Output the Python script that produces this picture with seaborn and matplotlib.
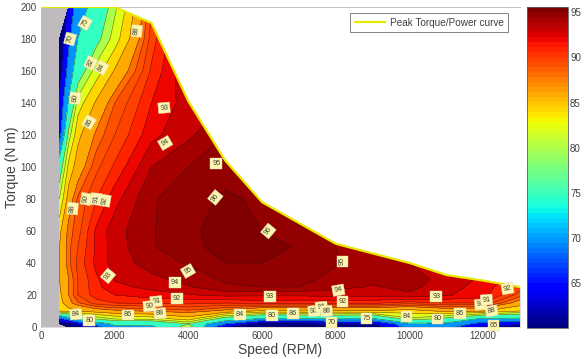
import numpy as np
import matplotlib
matplotlib.use("Agg")
import matplotlib.pyplot as plt
import seaborn as sns
from matplotlib.colors import ListedColormap, Normalize
from matplotlib.cm import ScalarMappable
from matplotlib.patches import Polygon

nan = np.nan

# measured grid, efficiency in % per torque row
speed = [500, 750, 1000, 1500, 2000, 3000, 4000, 5000, 6000, 7000, 8000, 9000, 10000, 11000, 12000, 13000]
torque = [0, 2, 5, 10, 15, 20, 25, 30, 40, 50, 60, 80, 100, 120, 140, 160, 180, 200]

eff_t0 = [nan, 60, 61, 68, 74, 74, 82, 65, 60, 60, 60, 62, 72, 72, 64, 62]
eff_t2 = [60, 62, 66, 72, 76, 76, 80, 70, 62, 62, 64, 64, 74, 74, 68, 66]
eff_t5 = [68, 72, 76, 80, 82, 82.5, 85, 78, 74, 74, 75, 74, 81.5, 79, 74, 74]
eff_t10 = [84, 85, 86, 87, 87.6, 88.2, 88.7, 87.5, 85.5, 86, 85.5, 85.8, 85, 86.5, 86.2, 84]
eff_t15 = [85, 87.5, 88.8, 90.5, 91, 91.2, 91.3, 91, 91.5, 91.3, 91.3, 91.2, 90.5, 91, 91, 87]
eff_t20 = [85.5, 88, 90, 91.5, 92, 92.5, 92.9, 93.3, 93.2, 93.2, 93.4, 93.5, 93.8, 93.1, 92.5, 89.5]
eff_t25 = [85.8, 88, 90, 91.7, 92.7, 93.3, 93.9, 94.8, 95, 95, 94.3, 93.9, 94.3, 93.4, 92.6, 90.5]
eff_t30 = [86, 88, 90, 91.8, 93.1, 93.7, 94.4, 95.2, 95.4, 95.2, 94.8, 94.3, 94.5, 93.6, 92.8, 91.5]
eff_t40 = [86, 88.7, 90.3, 92.3, 93.4, 94.5, 95.1, 96, 96, 95.7, 95.05, 94.5, 94, 93.5, 92.8, 91.5]
eff_t50 = [86, 88.7, 90, 92.2, 93.5, 94.9, 95.7, 96.4, 96.4, 95.9, 95, 94.5, 94, 93.5, 92.8, 91.5]
eff_t60 = [85.5, 88.5, 89.6, 92.2, 93.6, 94.9, 95.8, 96.4, 96, 95.7, 95, 94.5, 94, 93.5, 92.8, 91.5]
eff_t80 = [82, 87, 89.2, 91, 92.6, 94.9, 95.5, 96.2, 95.8, 95.5, 95, 94.5, 94, 93.5, 92.8, 91.5]
eff_t100 = [78, 84.7, 87, 89.7, 91.2, 94, 95, 95.5, 95, 95, 95, 94.5, 94, 93.5, 92.8, 91.5]
eff_t120 = [68, 81, 85.5, 88.3, 90, 92.7, 93.8, 95, 95, 95, 95, 94.5, 94, 93.5, 92.8, 91.5]
eff_t140 = [66, 75.5, 83, 86.3, 89, 92, 93.5, 94, 94, 94, 94, 94, 94, 93.5, 92.8, 91.5]
eff_t160 = [62, 72, 78, 83, 86.2, 91.2, 94, 94, 94, 94, 94, 94, 94, 93.5, 92.8, 91.5]
eff_t180 = [60, 69, 75, 79, 83, 90.5, 94, 94, 94, 94, 94, 94, 94, 93.5, 92.8, 91.5]
eff_t200 = [nan, 66, 72.7, 77, 81.5, 90, 94, 94, 94, 94, 94, 94, 94, 93.5, 92.8, 91.5]

peak_speed = [0, 2000, 3000, 4000, 5000, 6000, 7000, 8000, 9000, 10000, 11000, 12000, 13000]
peak_torque = [200, 200, 190, 141, 104, 78, 65, 52, 46, 40, 32.5, 29, 25]

levels = [50, 60, 65, 70, 75, 80, 82, 84, 86, 88, 89, 90, 91, 92, 93, 94, 95, 96, 100]

# contour labels: text, speed, torque, rotation
label_text = ["70", "75", "80", "82", "84", "86", "88", "93", "94", "95", "96", "96",
              "95", "93", "95", "94", "92", "91", "90", "88", "86", "84", "80",
              "84", "80", "86", "93", "90", "91", "88", "70", "92", "94", "75",
              "84", "80", "93", "86", "90", "91", "88", "65", "92", "88", "90", "91", "92"]
label_x = [790, 1195, 924, 1350, 1650, 1300, 2600, 3340, 3370, 4755, 4730, 6170,
           8180, 1820, 3990, 3640, 3690, 3125, 2935, 3230, 2360, 950, 1310,
           5400, 6270, 6840, 6220, 7410, 7610, 7745, 7880, 8180, 8070, 8830,
           9920, 10760, 10730, 11360, 11930, 12090, 12230, 12280, 12660, 860, 1225, 1495, 1740]
label_y = [180, 190, 143, 165, 162, 128, 185, 137, 115, 102, 81, 60,
           41, 32, 35, 28, 18, 16, 13, 8.5, 7.5, 8, 4,
           8, 7, 8.5, 19, 10, 12.5, 10, 3, 16, 23, 5.5,
           6.5, 5, 19, 8.5, 14, 17, 10, 1, 24, 74, 80, 80, 79]
label_rot = [75, 60, 85, 65, 60, 60, 85, 5, 30, 0, 50, 50,
             90, 50, 30, 0, 0, 5, 5, 5, 0, 5, 0,
             0, 0, 0, 0, 5, 5, 5, 0, 0, 10, 0,
             0, 0, 0, 0, 5, 5, 10, 0, 10, 85, 80, 85, 80]


def main():
    sns.set_theme(style="white")
    plt.rcParams["font.family"] = ["Liberation Sans", "DejaVu Sans"]
    text_color = "#404040"

    # seaborn will not hand out jet by name
    jet = ListedColormap(matplotlib.colormaps["jet"].resampled(64)(np.arange(64)))
    norm = Normalize(60, 95.6)

    efficiency = np.array([eff_t0, eff_t2, eff_t5, eff_t10, eff_t15, eff_t20, eff_t25, eff_t30, eff_t40,
                           eff_t50, eff_t60, eff_t80, eff_t100, eff_t120, eff_t140, eff_t160, eff_t180, eff_t200])

    fig = plt.figure(figsize=(5.87, 3.59), dpi=100)
    ax = fig.add_axes([41 / 587, 1 - 327 / 359, 479 / 587, 320 / 359])

    # gray area is where the motor has no data, below the peak curve
    ax.fill_between(peak_speed, 0, peak_torque, color="#bebabe", lw=0, zorder=1)

    fill_colors = [jet(norm(v)) for v in levels[:-1]]
    filled = ax.contourf(speed, torque, efficiency, levels=levels, colors=fill_colors, zorder=2)
    lines = ax.contour(speed, torque, efficiency, levels=levels[1:-1], colors="#301010", linewidths=0.4,
                       alpha=0.65, zorder=3)

    outline = Polygon(list(zip(peak_speed, peak_torque)) + [(13000, 0), (0, 0)], transform=ax.transData)
    filled.set_clip_path(outline)
    lines.set_clip_path(outline)

    sns.lineplot(x=peak_speed, y=peak_torque, ax=ax, color="#e8e800", lw=1.6, sort=False, errorbar=None,
                 label="Peak Torque/Power curve", zorder=5)

    for txt, x, y, rot in zip(label_text, label_x, label_y, label_rot):
        ax.text(x, y, txt, fontsize=5.2, color="#404030", rotation=rot, ha="center", va="center", zorder=6,
                bbox=dict(boxstyle="square,pad=0.25", fc="#fdf6b0", ec="#d8d8b8", lw=0.3))

    ax.set_xlim(0, 13000)
    ax.set_ylim(0, 200)
    ax.set_xticks(range(0, 13000, 2000))
    ax.set_yticks(range(0, 201, 20))
    ax.tick_params(labelsize=7, colors=text_color, length=2.5, width=0.5, pad=3, color="#808080", direction="in")
    ax.set_xlabel("Speed (RPM)", fontsize=10, color=text_color, labelpad=1)
    ax.set_ylabel("Torque (N m)", fontsize=10, color=text_color, labelpad=1)

    for side in ["right", "bottom"]:
        ax.spines[side].set_visible(False)
    for side in ["left", "top"]:
        ax.spines[side].set_color("#b8b8b8")
        ax.spines[side].set_linewidth(0.6)

    legend = ax.legend(loc="upper right", bbox_to_anchor=(0.975, 0.981), fontsize=7.2, frameon=True,
                       fancybox=False, borderaxespad=0, borderpad=0.45, handlelength=3, handletextpad=0.5)
    legend.get_frame().set_edgecolor("#707070")
    legend.get_frame().set_linewidth(0.6)
    legend.get_frame().set_alpha(1)
    legend.get_texts()[0].set_color(text_color)

    cax = fig.add_axes([527 / 587, 1 - 328 / 359, 41 / 587, 321 / 359])
    cbar = fig.colorbar(ScalarMappable(norm=norm, cmap=jet), cax=cax)
    cbar.set_ticks([65, 70, 75, 80, 85, 90, 95])
    cbar.ax.tick_params(labelsize=7, colors=text_color, length=2, width=0.4, pad=1.5, direction="in", left=True, right=True)
    cbar.outline.set_edgecolor("#606060")
    cbar.outline.set_linewidth(0.6)

    fig.savefig("out.png", dpi=100)
    plt.close(fig)


if __name__ == "__main__":
    main()
